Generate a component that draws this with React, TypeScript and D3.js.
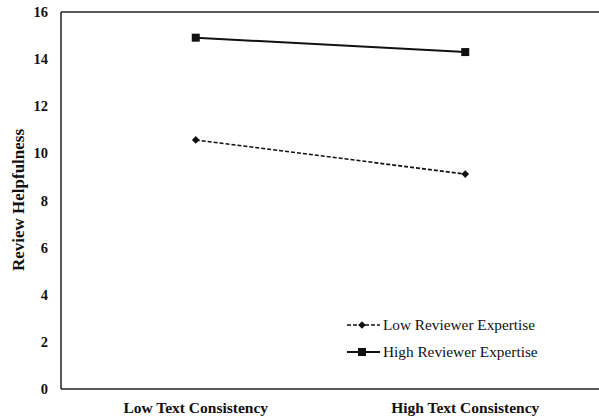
import React from "react";
import * as d3 from "d3";

const categories = ["Low Text Consistency", "High Text Consistency"];
const lowExpertise = [10.57, 9.12];
const highExpertise = [14.91, 14.3];
const yTicks = [0, 2, 4, 6, 8, 10, 12, 14, 16];
const seriesNames = ["Low Reviewer Expertise", "High Reviewer Expertise"];

const W = 599;
const H = 420;
const left = 61;
const right = 600;
const top = 12;
const bottom = 389;
const serif = "'Liberation Serif', 'Times New Roman', serif";

export default function App() {
  const x = d3.scaleBand<string>().domain(categories).range([left, right]);
  const y = d3.scaleLinear().domain([0, 16]).range([bottom, top]);
  const cx = (c: string) => (x(c) as number) + x.bandwidth() / 2;

  const line = d3
    .line<number>()
    .x((_, i) => cx(categories[i]))
    .y((d) => y(d));

  const diamond = d3.symbol(d3.symbolSquare, 30)();
  const square = d3.symbol(d3.symbolSquare, 64)();

  const legX = 347;
  const legY = [325, 352];

  return (
    <div style={{ position: "absolute", left: 0, top: 0 }}>
      <svg width={W} height={H} style={{ display: "block", background: "#fff" }}>
        {/* frame */}
        <line x1={left} x2={W} y1={top} y2={top} stroke="#222" strokeWidth={1.5} />
        <line x1={left} x2={W} y1={bottom} y2={bottom} stroke="#222" strokeWidth={1.5} />
        <line x1={left} x2={left} y1={top} y2={bottom} stroke="#222" strokeWidth={1.5} />

        {/* y tick labels */}
        {yTicks.map((t) => (
          <text
            key={t}
            x={48}
            y={y(t)}
            dy="0.35em"
            textAnchor="end"
            fontFamily={serif}
            fontWeight="bold"
            fontSize={14.5}
            fill="#111"
          >
            {t}
          </text>
        ))}

        {/* y title */}
        <text
          transform={`translate(24,200) rotate(-90)`}
          textAnchor="middle"
          fontFamily={serif}
          fontWeight="bold"
          fontSize={17}
          fill="#111"
        >
          Review Helpfulness
        </text>

        {/* x category labels */}
        {categories.map((c) => (
          <text
            key={c}
            x={cx(c)}
            y={413}
            textAnchor="middle"
            fontFamily={serif}
            fontWeight="bold"
            fontSize={15.5}
            fill="#111"
          >
            {c}
          </text>
        ))}

        {/* low expertise series */}
        <path
          d={line(lowExpertise) || ""}
          fill="none"
          stroke="#111"
          strokeWidth={1.6}
          strokeDasharray="4,2"
        />
        {lowExpertise.map((v, i) => (
          <path
            key={"l" + i}
            d={diamond || ""}
            transform={`translate(${cx(categories[i])},${y(v)}) rotate(45)`}
            fill="#111"
          />
        ))}

        {/* high expertise series */}
        <path d={line(highExpertise) || ""} fill="none" stroke="#111" strokeWidth={2} />
        {highExpertise.map((v, i) => (
          <path
            key={"h" + i}
            d={square || ""}
            transform={`translate(${cx(categories[i])},${y(v)})`}
            fill="#111"
          />
        ))}

        {/* legend */}
        <g>
          <line x1={legX} x2={legX + 33} y1={legY[0]} y2={legY[0]} stroke="#111" strokeWidth={1.6} strokeDasharray="4,2" />
          <path d={diamond || ""} transform={`translate(${legX + 15},${legY[0]}) rotate(45)`} fill="#111" />
          <text x={legX + 36} y={legY[0]} dy="0.35em" fontFamily={serif} fontSize={15.3} fill="#111">
            {seriesNames[0]}
          </text>
          <line x1={legX} x2={legX + 33} y1={legY[1]} y2={legY[1]} stroke="#111" strokeWidth={2.2} />
          <path d={square || ""} transform={`translate(${legX + 15},${legY[1]})`} fill="#111" />
          <text x={legX + 36} y={legY[1]} dy="0.35em" fontFamily={serif} fontSize={15.3} fill="#111">
            {seriesNames[1]}
          </text>
        </g>
      </svg>
    </div>
  );
}
